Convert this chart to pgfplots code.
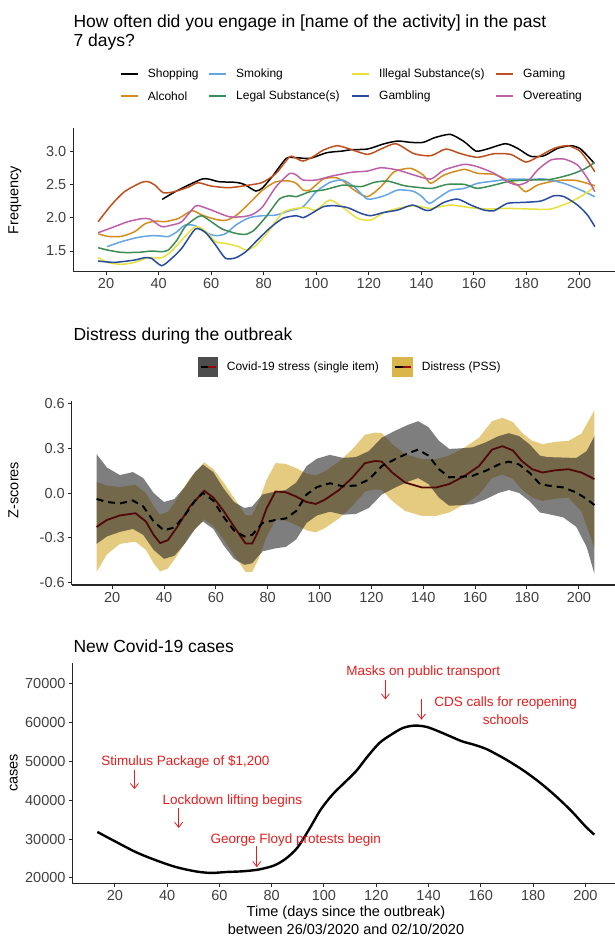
\documentclass[border=0pt]{standalone}
\usepackage{pgfplots}
\pgfplotsset{compat=1.18}
\usepackage{fontspec}
\setmainfont{Liberation Sans}
\usetikzlibrary{arrows.meta}

\definecolor{cShop}{RGB}{0,0,0}
\definecolor{cAlc}{RGB}{212,140,30}
\definecolor{cSmk}{RGB}{100,165,230}
\definecolor{cLeg}{RGB}{60,140,85}
\definecolor{cIll}{RGB}{232,225,60}
\definecolor{cGam}{RGB}{40,75,160}
\definecolor{cGmg}{RGB}{190,80,30}
\definecolor{cOve}{RGB}{190,95,170}
\definecolor{cGray}{RGB}{77,77,77}
\definecolor{cGrayFill}{RGB}{40,40,40}
\definecolor{cGold}{RGB}{217,181,74}
\definecolor{cMaroon}{RGB}{80,8,8}
\definecolor{cAnn}{RGB}{228,30,30}

\pgfplotsset{
  mystyle/.style={
    scale only axis,
    axis lines*=left,
    axis line style={line width=1.1pt, black!85},
    tick align=outside,
    major tick length=3.5pt,
    tick style={line width=1pt, black!85},
    tick label style={font=\fontsize{14.5}{16}\selectfont, text=black!75},
    xtick={20,40,...,200},
    xticklabels={20,40,60,80,100,120,140,160,180,200},
    clip=true,
  },
  freq/.style={line width=1.5pt, smooth, tension=0.4, no markers},
}

\begin{document}
\begin{tikzpicture}
\useasboundingbox (0pt,0pt) rectangle (615pt,-938pt);

% ---------------- Panel 1 ----------------
\node[anchor=base west, inner sep=0pt, font=\fontsize{17.5}{19}\selectfont] at (73.3pt,-27pt) {How often did you engage in [name of the activity] in the past};
\node[anchor=base west, inner sep=0pt, font=\fontsize{17.5}{19}\selectfont] at (73.3pt,-46pt) {7 days?};

% legend panel 1
\begin{scope}[font=\fontsize{12}{14}\selectfont]
\draw[draw=cShop, line width=1.6pt] (120.7pt,-74pt) -- (137.7pt,-74pt);
\node[anchor=west, inner sep=0pt] at (147.7pt,-74pt) {Shopping};
\draw[draw=cAlc, line width=1.6pt] (120.7pt,-96pt) -- (137.7pt,-96pt);
\node[anchor=west, inner sep=0pt] at (147.7pt,-96pt) {Alcohol};
\draw[draw=cSmk, line width=1.6pt] (209pt,-74pt) -- (226pt,-74pt);
\node[anchor=west, inner sep=0pt] at (236pt,-74pt) {Smoking};
\draw[draw=cLeg, line width=1.6pt] (209pt,-96pt) -- (226pt,-96pt);
\node[anchor=west, inner sep=0pt] at (236pt,-96pt) {Legal Substance(s)};
\draw[draw=cIll, line width=1.6pt] (352pt,-74pt) -- (369pt,-74pt);
\node[anchor=west, inner sep=0pt] at (379pt,-74pt) {Illegal Substance(s)};
\draw[draw=cGam, line width=1.6pt] (352pt,-96pt) -- (369pt,-96pt);
\node[anchor=west, inner sep=0pt] at (379pt,-96pt) {Gambling};
\draw[draw=cGmg, line width=1.6pt] (496pt,-74pt) -- (513pt,-74pt);
\node[anchor=west, inner sep=0pt] at (523pt,-74pt) {Gaming};
\draw[draw=cOve, line width=1.6pt] (496pt,-96pt) -- (513pt,-96pt);
\node[anchor=west, inner sep=0pt] at (523pt,-96pt) {Overeating};
\end{scope}

\node[rotate=90, font=\fontsize{14.5}{16}\selectfont] at (15pt,-200pt) {Frequency};

\begin{axis}[mystyle, at={(73.3pt,-127.7pt)}, anchor=north west,
  width=546.4pt, height=144pt,
  xmin=7.55, xmax=215.45, ymin=1.19, ymax=3.35,
  ytick={1.5,2.0,2.5,3.0}, yticklabels={1.5,2.0,2.5,3.0}]
% Shopping
\addplot[freq, cShop] coordinates {(41.4,2.275)(46.3,2.39)(51.4,2.49)(56.5,2.58)(59,2.58)(63,2.54)(69.4,2.53)(72.6,2.5)(77,2.4)(79.6,2.45)(83.5,2.63)(88.6,2.89)(92.4,2.9)(97.6,2.89)(104,2.975)(110,3.0)(113.2,3.02)(119.5,3.03)(125.9,3.11)(131,3.15)(136,3.13)(140.7,3.13)(145,3.2)(151,3.25)(156.3,3.14)(160.7,3.0)(165,3.03)(172,3.11)(176.6,3.04)(181.6,2.92)(186.7,2.93)(191.8,3.04)(196.9,3.08)(200.6,3.03)(205.7,2.82)};
% Alcohol
\addplot[freq, cAlc] coordinates {(17,1.76)(20.6,1.72)(25.8,1.72)(30.9,1.79)(34.7,1.905)(38.6,1.95)(42.4,1.94)(47.6,1.99)(52.7,2.105)(56.5,2.04)(61.7,1.975)(65.5,1.96)(69.4,2.03)(74.5,2.215)(79.6,2.415)(84.7,2.54)(89.9,2.55)(92.4,2.515)(95,2.415)(97.6,2.415)(102.7,2.58)(107.5,2.6)(110.6,2.54)(114.4,2.415)(119.5,2.315)(124.6,2.465)(129.7,2.69)(136,2.74)(140.7,2.64)(143.6,2.515)(148.6,2.64)(156.3,2.725)(161.3,2.665)(167.7,2.65)(172.7,2.565)(176.6,2.49)(179.7,2.39)(184.2,2.49)(189.2,2.54)(194.3,2.565)(199.4,2.555)(206,2.48)};
% Smoking
\addplot[freq, cSmk] coordinates {(20.4,1.565)(25.8,1.64)(32.2,1.705)(37.3,1.73)(41.2,1.725)(43.7,1.715)(47,1.79)(50.1,1.89)(54,1.88)(57.8,1.78)(61.7,1.73)(65.5,1.76)(69.4,1.89)(74.5,2.0)(79.6,2.03)(84.7,2.04)(89.9,2.105)(95,2.165)(100,2.39)(105.2,2.53)(110,2.565)(114.4,2.465)(119.5,2.28)(125.9,2.33)(131,2.415)(136.6,2.4)(139.8,2.33)(143,2.215)(146.2,2.29)(151,2.41)(156.3,2.44)(161.3,2.515)(167.7,2.55)(174,2.58)(181.6,2.575)(186.7,2.58)(194.3,2.515)(200.6,2.415)(206,2.315)};
% Legal substances
\addplot[freq, cLeg] coordinates {(17,1.55)(20.6,1.515)(25.8,1.48)(32.2,1.48)(37.3,1.5)(41.2,1.49)(43.7,1.515)(47,1.665)(50.1,1.865)(54,1.99)(56.5,2.03)(60.4,1.93)(64.2,1.83)(69.4,1.765)(73.2,1.75)(76.4,1.815)(80.9,2.015)(86,2.28)(89.9,2.33)(92.4,2.315)(97.6,2.39)(102.7,2.415)(107,2.46)(110.6,2.49)(117,2.465)(122,2.53)(127.2,2.55)(133.5,2.48)(139.8,2.45)(144.2,2.44)(149.8,2.5)(156.3,2.5)(161.3,2.44)(167.7,2.49)(174,2.55)(181.6,2.565)(189.2,2.575)(196.9,2.65)(202,2.73)(206,2.83)};
% Illegal substances
\addplot[freq, cIll] coordinates {(17,1.4)(20.6,1.33)(25.8,1.3)(30.9,1.33)(36,1.4)(41.2,1.4)(45,1.5)(48.8,1.665)(54,1.865)(57.8,1.8)(61.7,1.64)(65.5,1.615)(70.6,1.565)(73.2,1.515)(77,1.58)(82.2,1.815)(87.3,2.08)(92.4,2.14)(96.3,2.15)(100,2.115)(105.2,2.265)(110.6,2.14)(115.7,1.99)(120.7,1.965)(125.9,2.08)(131,2.14)(137.2,2.18)(143.6,2.14)(151,2.19)(158.8,2.15)(165,2.13)(172.7,2.14)(181.6,2.13)(189.2,2.13)(196.9,2.24)(202,2.35)(206,2.465)};
% Gambling
\addplot[freq, cGam] coordinates {(17,1.35)(23.2,1.33)(30.9,1.365)(34.7,1.4)(37.3,1.39)(41.2,1.28)(45,1.39)(48.8,1.54)(54,1.83)(57.8,1.78)(61.7,1.59)(65.5,1.39)(69.4,1.4)(73.2,1.49)(77,1.64)(82.2,1.84)(87.3,1.99)(92.4,2.03)(95,2.0)(97.6,2.05)(102.7,2.165)(107,2.18)(112,2.15)(117,2.065)(120.7,2.03)(125.9,2.08)(131,2.115)(136.6,2.19)(141.3,2.115)(143.6,2.115)(148.6,2.23)(153.7,2.28)(158.8,2.19)(163.8,2.115)(167.7,2.105)(172.7,2.215)(179,2.23)(185.5,2.25)(190.5,2.33)(194.3,2.315)(199.4,2.19)(203.2,2.04)(206,1.865)};
% Gaming
\addplot[freq, cGmg] coordinates {(17,1.94)(22,2.19)(27,2.39)(33.5,2.53)(36,2.54)(38.6,2.49)(41.8,2.375)(46,2.39)(51.4,2.46)(55,2.525)(60,2.475)(66.8,2.45)(74.5,2.49)(79.6,2.53)(84.7,2.665)(89.9,2.915)(92.4,2.89)(95,2.85)(98.8,2.915)(102.7,3.015)(107.8,3.08)(112,3.04)(119.5,2.95)(124.6,3.03)(130.3,3.11)(137.2,2.96)(143.6,2.93)(149.3,3.03)(155,2.96)(161.3,2.905)(167.7,2.96)(174,2.95)(179.7,2.835)(184.2,2.91)(190.5,3.04)(195.6,3.08)(200.6,2.99)(206,2.69)};
% Overeating
\addplot[freq, cOve] coordinates {(17,1.775)(23.2,1.865)(28.3,1.94)(33.5,1.985)(36.7,1.98)(41.2,1.865)(45,1.89)(48.8,1.94)(54,2.175)(56.5,2.165)(60.4,2.11)(66.8,2.015)(72,2.015)(75.8,2.05)(79.6,2.165)(84.7,2.465)(89.9,2.665)(92.4,2.64)(95,2.565)(100,2.565)(105.4,2.62)(113.2,2.68)(119.5,2.7)(124.6,2.75)(131,2.715)(137.2,2.64)(143.6,2.58)(148.6,2.715)(156.3,2.8)(161.3,2.765)(167.7,2.665)(172.7,2.54)(176.6,2.49)(180.4,2.54)(184.2,2.715)(189.2,2.865)(194.3,2.88)(199.4,2.79)(203.2,2.59)(206,2.39)};
\end{axis}

% ---------------- Panel 2 ----------------
\node[anchor=base west, inner sep=0pt, font=\fontsize{17.5}{19}\selectfont] at (73.3pt,-340pt) {Distress during the outbreak};
\begin{scope}[font=\fontsize{12}{14}\selectfont]
\fill[cGray] (197.7pt,-356.7pt) rectangle (218.3pt,-377.3pt);
\draw[black, line width=1.6pt] (200.5pt,-367pt) -- (208pt,-367pt);
\draw[cMaroon!60!red, line width=1.6pt] (208pt,-367pt) -- (215.5pt,-367pt);
\node[anchor=west, inner sep=0pt] at (226.7pt,-367pt) {Covid-19 stress (single item)};
\fill[cGold] (392.3pt,-356.7pt) rectangle (413.3pt,-377.3pt);
\draw[black, line width=1.6pt] (395pt,-367pt) -- (402.8pt,-367pt);
\draw[cMaroon!60!red, line width=1.6pt] (402.8pt,-367pt) -- (410.5pt,-367pt);
\node[anchor=west, inner sep=0pt] at (421.7pt,-367pt) {Distress (PSS)};
\end{scope}

\node[rotate=90, font=\fontsize{14.5}{16}\selectfont] at (13.5pt,-490pt) {Z-scores};

\begin{axis}[mystyle, at={(71.7pt,-400.7pt)}, anchor=north west,
  width=547.6pt, height=184.3pt,
  xmin=4.4, xmax=215.6, ymin=-0.615, ymax=0.617,
  ytick={-0.6,-0.3,0,0.3,0.6}, yticklabels={-0.6,-0.3,0.0,0.3,0.6}]
% Distress (PSS) ribbon
\addplot[draw=none, fill=cGold, fill opacity=0.7] coordinates {
(14,0.073)(18,0.05)(23,0.04)(29,0.055)(33,0.0)(36,-0.09)(38.5,-0.145)(41.5,-0.125)(45,-0.04)(50,0.10)(55.5,0.205)(59,0.16)(63,0.07)(68,-0.06)(71.5,-0.148)(74,-0.148)(76.5,-0.06)(79.5,0.085)(83,0.20)(87,0.195)(91,0.166)(95,0.13)(98.5,0.117)(102,0.145)(107.5,0.21)(112.5,0.29)(117.5,0.39)(121.5,0.404)(124,0.40)(128,0.327)(133,0.26)(139.5,0.227)(145,0.227)(150,0.25)(156,0.305)(161.5,0.37)(166.5,0.48)(170.5,0.503)(174.5,0.475)(178,0.404)(182,0.349)(186,0.327)(191,0.342)(196,0.349)(201,0.397)(203.5,0.475)(206,0.553)
(206,-0.367)(203.5,-0.245)(201,-0.123)(196,-0.031)(191,-0.038)(186,-0.053)(182,-0.031)(178,0.024)(174.5,0.095)(170.5,0.123)(166.5,0.10)(161.5,-0.01)(156,-0.075)(150,-0.13)(145,-0.153)(139.5,-0.153)(133,-0.12)(128,-0.053)(124,0.02)(121.5,0.024)(117.5,0.01)(112.5,-0.09)(107.5,-0.17)(102,-0.235)(98.5,-0.263)(95,-0.25)(91,-0.214)(87,-0.185)(83,-0.18)(79.5,-0.295)(76.5,-0.44)(74,-0.528)(71.5,-0.528)(68,-0.44)(63,-0.31)(59,-0.22)(55.5,-0.175)(50,-0.28)(45,-0.42)(41.5,-0.505)(38.5,-0.525)(36,-0.47)(33,-0.38)(29,-0.325)(23,-0.34)(18,-0.41)(14,-0.527)} -- cycle;
% Covid stress ribbon
\addplot[draw=none, fill=cGrayFill, fill opacity=0.6] coordinates {
(14,0.26)(18,0.17)(23,0.12)(28,0.14)(32,0.10)(36,0.00)(40,-0.06)(44,-0.04)(48,0.04)(52,0.14)(55,0.19)(59,0.14)(63,0.03)(67,-0.06)(71,-0.10)(74,-0.09)(78,-0.01)(83,0.01)(87,0.02)(91,0.07)(95,0.18)(99,0.23)(104,0.255)(109,0.235)(114,0.24)(119,0.28)(124,0.37)(129,0.415)(134,0.455)(138,0.48)(142,0.44)(146,0.35)(150,0.295)(154,0.298)(159,0.305)(164,0.338)(169,0.38)(173,0.40)(177,0.38)(181,0.325)(185,0.25)(188,0.24)(194,0.237)(199,0.234)(203,0.28)(206,0.38)
(206,-0.54)(203,-0.36)(199,-0.226)(194,-0.163)(188,-0.14)(185,-0.13)(181,-0.055)(177,0.00)(173,0.02)(169,0.00)(164,-0.042)(159,-0.075)(154,-0.082)(150,-0.085)(146,-0.03)(142,0.06)(138,0.10)(134,0.075)(129,0.035)(124,-0.01)(119,-0.10)(114,-0.14)(109,-0.145)(104,-0.125)(99,-0.15)(95,-0.20)(91,-0.31)(87,-0.36)(83,-0.37)(78,-0.39)(74,-0.47)(71,-0.48)(67,-0.44)(63,-0.35)(59,-0.24)(55,-0.19)(52,-0.24)(48,-0.34)(44,-0.42)(40,-0.44)(36,-0.38)(32,-0.28)(28,-0.24)(23,-0.26)(18,-0.29)(14,-0.34)} -- cycle;
% Distress (PSS) line
\addplot[cMaroon, line width=1.8pt, no markers] coordinates {(14,-0.227)(18,-0.18)(23,-0.15)(29,-0.135)(33,-0.19)(36,-0.28)(38.5,-0.335)(41.5,-0.315)(45,-0.23)(50,-0.09)(55.5,0.015)(59,-0.03)(63,-0.12)(68,-0.25)(71.5,-0.338)(74,-0.338)(76.5,-0.25)(79.5,-0.105)(83,0.01)(87,0.005)(91,-0.024)(95,-0.06)(98.5,-0.073)(102,-0.045)(107.5,0.02)(112.5,0.10)(117.5,0.2)(121.5,0.214)(124,0.21)(128,0.137)(133,0.07)(139.5,0.037)(145,0.037)(150,0.06)(156,0.115)(161.5,0.18)(166.5,0.29)(170.5,0.313)(174.5,0.285)(178,0.214)(182,0.159)(186,0.137)(191,0.152)(196,0.159)(201,0.137)(206,0.093)};
% Covid stress line
\addplot[black, line width=2pt, dash pattern=on 7pt off 5pt, no markers] coordinates {(14,-0.04)(18,-0.06)(23,-0.07)(28,-0.05)(32,-0.09)(36,-0.19)(40,-0.25)(44,-0.23)(48,-0.15)(52,-0.05)(55,0.0)(59,-0.05)(63,-0.16)(67,-0.25)(71,-0.29)(74,-0.28)(78,-0.20)(83,-0.18)(87,-0.17)(91,-0.12)(95,-0.01)(99,0.04)(104,0.065)(109,0.045)(114,0.05)(119,0.09)(124,0.18)(129,0.225)(134,0.265)(138,0.29)(142,0.25)(146,0.16)(150,0.105)(154,0.108)(159,0.115)(164,0.148)(169,0.19)(173,0.21)(177,0.19)(181,0.135)(185,0.06)(188,0.05)(194,0.037)(199,0.004)(203,-0.04)(206,-0.08)};
\end{axis}

% ---------------- Panel 3 ----------------
\node[anchor=base west, inner sep=0pt, font=\fontsize{17.5}{19}\selectfont] at (73.3pt,-652pt) {New Covid-19 cases};
\node[rotate=90, font=\fontsize{14.5}{16}\selectfont] at (13.7pt,-773pt) {cases};
\node[font=\fontsize{14.5}{16}\selectfont] at (346pt,-913pt) {Time (days since the outbreak)};
\node[font=\fontsize{14.5}{16}\selectfont] at (346pt,-929.5pt) {between 26/03/2020 and 02/10/2020};

\begin{axis}[mystyle, at={(72.5pt,-663.3pt)}, anchor=north west,
  width=546.6pt, height=220pt,
  xmin=3.8, xmax=212.9, ymin=18630, ymax=75300,
  scaled y ticks=false,
  ytick={20000,30000,40000,50000,60000,70000},
  yticklabels={20000,30000,40000,50000,60000,70000}]
\addplot[black, line width=2.4pt, smooth, tension=0.5, no markers] coordinates {(13.3,31860)(20.75,29200)(28.25,26600)(35.75,24560)(43.25,22840)(50.75,21720)(56.75,21300)(62.75,21550)(68.75,21720)(74.75,22150)(80.75,23180)(85.25,24900)(89.75,27740)(94.25,32460)(98.75,37610)(103.25,41480)(107.75,44490)(112.25,47490)(116.75,51360)(121.25,54800)(125.75,56940)(130.25,58660)(134.75,59260)(139.25,58920)(143.75,57800)(148.25,56510)(152.75,55220)(157.25,54360)(161.75,53330)(166.25,51790)(170.75,50070)(176.75,47490)(182.75,44490)(188.75,41050)(194.75,37180)(200,33320)(203.4,31170)};
\begin{scope}[cAnn, font=\fontsize{13.5}{15}\selectfont]
\node at (axis cs:47,49900) {Stimulus Package of \$1,200};
\draw[line width=0.8pt, -{Straight Barb[length=5pt,width=8pt]}] (axis cs:27.5,47900) -- (axis cs:27.5,42900);
\node at (axis cs:65,39900) {Lockdown lifting begins};
\draw[line width=0.8pt, -{Straight Barb[length=5pt,width=8pt]}] (axis cs:44.4,38000) -- (axis cs:44.4,32900);
\node at (axis cs:89.2,29900) {George Floyd protests begin};
\draw[line width=0.8pt, -{Straight Barb[length=5pt,width=8pt]}] (axis cs:74.3,28200) -- (axis cs:74.3,22800);
\node at (axis cs:138,73000) {Masks on public transport};
\draw[line width=0.8pt, -{Straight Barb[length=5pt,width=8pt]}] (axis cs:123.5,71100) -- (axis cs:123.5,66000);
\node[align=center] at (axis cs:169.5,63000) {CDS calls for reopening\\[3pt]schools};
\draw[line width=0.8pt, -{Straight Barb[length=5pt,width=8pt]}] (axis cs:137.3,66100) -- (axis cs:137.3,60800);
\end{scope}
\end{axis}
\end{tikzpicture}
\end{document}
